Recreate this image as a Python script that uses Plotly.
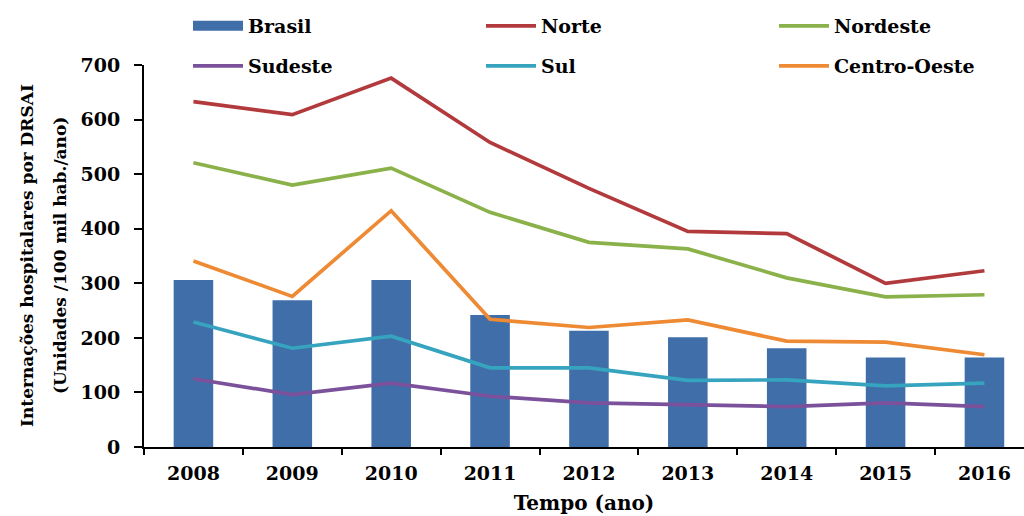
import plotly.graph_objects as go

years = ["2008", "2009", "2010", "2011", "2012", "2013", "2014", "2015", "2016"]

brasil = [306, 269, 306, 242, 213, 201, 181, 164, 164]
norte = [633, 609, 676, 558, 474, 395, 391, 300, 323]
nordeste = [521, 480, 511, 430, 375, 363, 310, 275, 279]
sudeste = [125, 96, 117, 93, 81, 78, 74, 81, 74]
sul = [229, 181, 203, 145, 145, 122, 123, 112, 117]
centro_oeste = [341, 276, 433, 234, 219, 233, 194, 192, 169]

COLORS = {
    "Brasil": "#3F6EA8",
    "Norte": "#B23A3C",
    "Nordeste": "#8AB14A",
    "Sudeste": "#7B519C",
    "Sul": "#36A3BF",
    "Centro-Oeste": "#EE8A33",
}

FONT = "DejaVu Serif"

fig = go.Figure()

# Bars for the national total
fig.add_trace(go.Bar(
    x=years, y=brasil, name="Brasil", width=0.4,
    marker=dict(color=COLORS["Brasil"], line=dict(width=0)),
    showlegend=False,
))
# Wide legend swatch for the bar series
fig.add_trace(go.Scatter(
    x=[None], y=[None], mode="lines", name="Brasil",
    line=dict(color=COLORS["Brasil"], width=10), legend="legend",
))

row1 = [("Norte", norte), ("Nordeste", nordeste)]
row2 = [("Sudeste", sudeste), ("Sul", sul), ("Centro-Oeste", centro_oeste)]

for name, vals in row1:
    fig.add_trace(go.Scatter(
        x=years, y=vals, mode="lines", name=name,
        line=dict(color=COLORS[name], width=3.7), legend="legend",
    ))
for name, vals in row2:
    fig.add_trace(go.Scatter(
        x=years, y=vals, mode="lines", name=name,
        line=dict(color=COLORS[name], width=3.7), legend="legend2",
    ))

legend_common = dict(
    orientation="h", xref="container", yref="container",
    xanchor="left", yanchor="middle",
    entrywidth=228, entrywidthmode="pixels", itemwidth=50,
    font=dict(family=FONT, size=19, color="black", weight="bold"),
    bgcolor="rgba(0,0,0,0)", traceorder="normal",
    itemclick=False, itemdoubleclick=False,
)

fig.update_layout(
    width=1024, height=516,
    margin=dict(l=144, r=0, t=65, b=69, autoexpand=False),
    paper_bgcolor="white", plot_bgcolor="white",
    bargap=0.6,
    legend=dict(x=188 / 1024, y=1 - 26 / 516, **legend_common),
    legend2=dict(x=188 / 1024, y=1 - 66 / 516, **legend_common),
    xaxis=dict(
        type="category", range=[-0.5, 8.4],
        showline=True, linecolor="black", linewidth=2,
        ticks="outside", tickson="boundaries", ticklen=6, tickwidth=2,
        tickcolor="black", showgrid=False, ticklabelstandoff=8,
        tickfont=dict(family=FONT, size=19, color="black", weight="bold"),
        title=dict(text="Tempo (ano)", standoff=13,
                   font=dict(family=FONT, size=20, color="black", weight="bold")),
    ),
    yaxis=dict(
        range=[0, 700], dtick=100,
        showline=True, linecolor="black", linewidth=2,
        ticks="outside", ticklen=8, tickwidth=2, tickcolor="black",
        showgrid=False, zeroline=False, ticklabelstandoff=10,
        tickfont=dict(family=FONT, size=19, color="black", weight="bold"),
    ),
    annotations=[
        dict(text="Internações hospitalares por DRSAI", textangle=-90,
             xref="paper", yref="paper", x=0, y=0.5, xanchor="center",
             yanchor="middle", xshift=-117, yshift=-0,
             showarrow=False,
             font=dict(family=FONT, size=17, color="black", weight="bold")),
        dict(text="(Unidades /100 mil hab./ano)", textangle=-90,
             xref="paper", yref="paper", x=0, y=0.5, xanchor="center",
             yanchor="middle", xshift=-84, yshift=0,
             showarrow=False,
             font=dict(family=FONT, size=17, color="black", weight="bold")),
    ],
)

fig.write_html("out.html")
